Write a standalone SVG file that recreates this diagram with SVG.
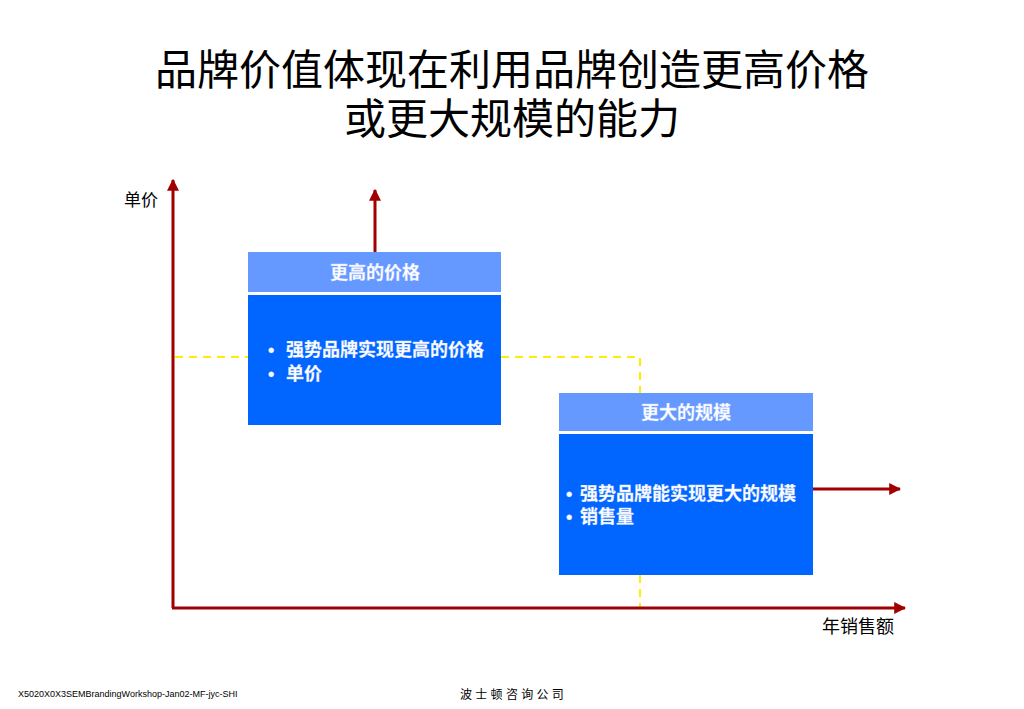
<svg xmlns="http://www.w3.org/2000/svg" width="1024" height="709" viewBox="0 0 1024 709">
<defs>
<style>
.cjk{font-family:"Liberation Sans","Noto Sans CJK SC",sans-serif;}
.title{font-size:42px;fill:#000;text-anchor:middle;}
.ax{stroke:#A00000;stroke-width:3;fill:none;}
.dash{stroke:#FFEE00;stroke-width:2;stroke-dasharray:8,6;fill:none;}
.hdr{fill:#6699FF;}
.body{fill:#0066FF;}
.wt{fill:#FFFFFF;font-size:18px;font-weight:bold;stroke:#C8D8FF;stroke-width:0.3;}
.lbl{font-size:17px;fill:#000;}
.lbl2{font-size:18px;fill:#000;}
</style>
<marker id="ah" viewBox="0 0 10 10" refX="9" refY="5" markerWidth="4" markerHeight="4" orient="auto" markerUnits="strokeWidth">
<path d="M0,0 L10,5 L0,10 z" fill="#A00000"/>
</marker>
</defs>
<rect width="1024" height="709" fill="#FFFFFF"/>
<g id="title" class="cjk">
<text class="title" x="512" y="85">品牌价值体现在利用品牌创造更高价格</text>
<text class="title" x="512" y="134">或更大规模的能力</text>
</g>
<g id="connectors">
<path class="dash" d="M175,357 L248,357"/>
<path class="dash" d="M501,357 L640,357 L640,393"/>
<path class="dash" d="M640,575 L640,607"/>
<path class="ax" d="M173,608 L173,180" marker-end="url(#ah)"/>
<path class="ax" d="M172,608 L905,608" marker-end="url(#ah)"/>
<path class="ax" d="M375,252 L375,190" marker-end="url(#ah)"/>
<path class="ax" d="M813,489 L900,489" marker-end="url(#ah)"/>
</g>
<g id="axis-labels" class="cjk">
<text class="lbl" x="124" y="206">单价</text>
<text class="lbl2" x="822" y="633">年销售额</text>
</g>
<g id="box-price" class="cjk">
<rect class="hdr" x="248" y="252" width="253" height="40"/>
<rect class="body" x="248" y="295" width="253" height="130"/>
<text class="wt" x="375" y="279" text-anchor="middle">更高的价格</text>
<text class="wt" x="268" y="356">•</text>
<text class="wt" x="286" y="356">强势品牌实现更高的价格</text>
<text class="wt" x="268" y="380">•</text>
<text class="wt" x="286" y="380">单价</text>
</g>
<g id="box-scale" class="cjk">
<rect class="hdr" x="559" y="393" width="254" height="38"/>
<rect class="body" x="559" y="434" width="254" height="141"/>
<text class="wt" x="686" y="419" text-anchor="middle">更大的规模</text>
<text class="wt" x="566" y="500">•</text>
<text class="wt" x="580" y="500">强势品牌能实现更大的规模</text>
<text class="wt" x="566" y="523">•</text>
<text class="wt" x="580" y="523">销售量</text>
</g>
<g id="footer" class="cjk">
<text x="18" y="697" font-size="9" fill="#000">X5020X0X3SEMBrandingWorkshop-Jan02-MF-jyc-SHI</text>
<text x="460" y="699" font-size="12" fill="#000" letter-spacing="3.3">波士顿咨询公司</text>
</g>
</svg>
